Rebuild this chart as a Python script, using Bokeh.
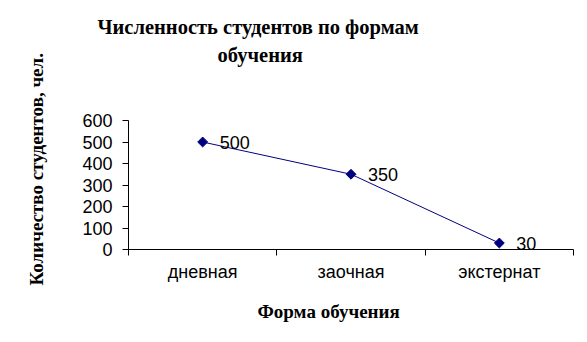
from bokeh.plotting import figure
from bokeh.models import (Range1d, FixedTicker, Title, LabelSet, ColumnDataSource)
from bokeh.core.properties import value
from bokeh.embed import file_html
from bokeh.resources import INLINE
import math

categories = ["дневная", "заочная", "экстернат"]
students = [500, 350, 30]
y_ticks = [0, 100, 200, 300, 400, 500, 600]

title_lines = ["Численность студентов по формам", "обучения"]
x_title = "Форма обучения"
y_title = "Количество студентов, чел."

xs = [i + 0.5 for i in range(len(categories))]
src = ColumnDataSource(dict(x=xs, y=students, lbl=[str(v) for v in students]))

p = figure(width=587, height=342, output_backend="svg", toolbar_location=None,
           x_range=Range1d(0, len(categories)), y_range=Range1d(0, 600),
           min_border_left=128, min_border_right=14, min_border_top=120, min_border_bottom=93)
p.outline_line_color = None
p.background_fill_color = "white"
p.border_fill_color = "white"
p.grid.visible = False

p.line("x", "y", source=src, line_color="#000080", line_width=1)
p.scatter("x", "y", source=src, marker="square", angle=math.pi / 4, size=7,
          fill_color="#000080", line_color="#000080")

p.add_layout(LabelSet(x="x", y="y", text="lbl", source=src, x_offset=17, y_offset=0,
                      text_baseline="middle", text_align="left",
                      text_font=value("Liberation Sans"), text_font_size=value("18px"),
                      text_color="black"))

xa = p.xaxis[0]
xa.ticker = FixedTicker(ticks=xs, minor_ticks=list(range(len(categories) + 1)))
xa.major_label_overrides = {x: c for x, c in zip(xs, categories)}
xa.major_tick_line_color = None
xa.minor_tick_line_color = "black"
xa.minor_tick_out = 6
xa.minor_tick_in = 0
xa.axis_line_color = "black"
xa.major_label_text_font = "Liberation Sans"
xa.major_label_text_font_size = "18px"
xa.major_label_text_color = "black"
xa.major_label_standoff = 6

ya = p.yaxis[0]
ya.ticker = FixedTicker(ticks=y_ticks, minor_ticks=[])
ya.major_tick_out = 6
ya.major_tick_in = 0
ya.major_tick_line_color = "black"
ya.axis_line_color = "black"
ya.major_label_text_font = "Liberation Sans"
ya.major_label_text_font_size = "18px"
ya.major_label_text_color = "black"
ya.major_label_standoff = 10

serif = "Liberation Serif"

def spacer(gap):
    return Title(text=" ", text_font_size="1px", standoff=gap, text_color="white")

# title block (first added = nearest to the frame)
p.add_layout(spacer(50), "above")
p.add_layout(Title(text=title_lines[1], align="left", offset=89, standoff=4,
                   text_font=serif, text_font_style="bold", text_font_size="20.5px",
                   text_color="black"), "above")
p.add_layout(Title(text=title_lines[0], align="left", offset=-31, standoff=4,
                   text_font=serif, text_font_style="bold", text_font_size="20.5px",
                   text_color="black"), "above")

p.add_layout(Title(text=x_title, align="left", offset=129, standoff=28,
                   text_font=serif, text_font_style="bold", text_font_size="19px",
                   text_color="black"), "below")

p.add_layout(spacer(29), "left")
p.add_layout(Title(text=y_title, align="left", offset=-36, standoff=2,
                   text_font=serif, text_font_style="bold", text_font_size="19px",
                   text_color="black"), "left")

open("out.html", "w").write(file_html(p, INLINE))
